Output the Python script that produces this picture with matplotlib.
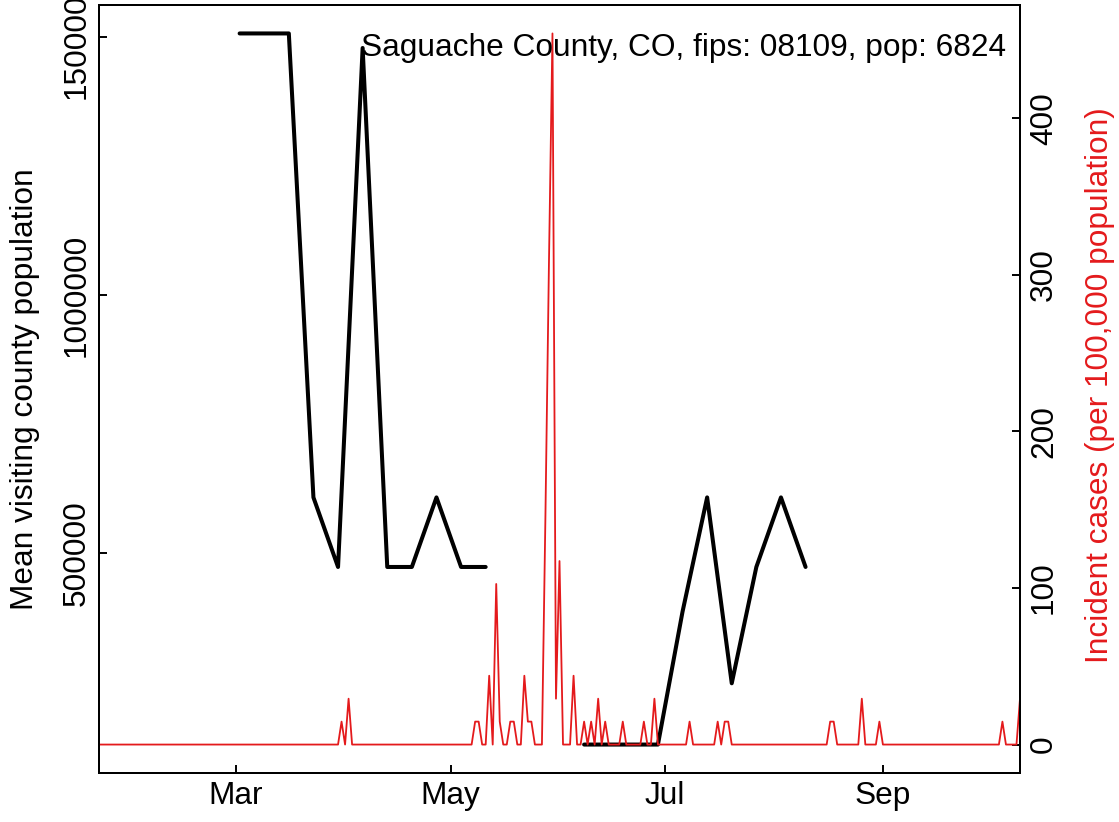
import numpy as np
import matplotlib
matplotlib.use("Agg")
import matplotlib.pyplot as plt
import matplotlib.dates as mdates

plt.rcParams['font.family'] = ['Liberation Sans', 'DejaVu Sans']

county = "Saguache County, CO"
fips = "08109"
population = 6824

# daily incident cases, 2020-01-22 .. 2020-10-10; zero except on these days
case_start = np.datetime64("2020-01-22")
case_end = np.datetime64("2020-10-10")
spike_dates = ["2020-03-31", "2020-04-02", "2020-05-08", "2020-05-09", "2020-05-12",
               "2020-05-14", "2020-05-15", "2020-05-18", "2020-05-19", "2020-05-22",
               "2020-05-23", "2020-05-24", "2020-05-28", "2020-05-29", "2020-05-30",
               "2020-05-31", "2020-06-01", "2020-06-05", "2020-06-08", "2020-06-10",
               "2020-06-12", "2020-06-14", "2020-06-19", "2020-06-25", "2020-06-28",
               "2020-07-08", "2020-07-16", "2020-07-18", "2020-07-19", "2020-08-17",
               "2020-08-18", "2020-08-26", "2020-08-31", "2020-10-05", "2020-10-10"]
spike_cases = [1, 2, 1, 1, 3,
               7, 1, 1, 1, 3,
               1, 1, 10, 21, 31,
               2, 8, 3, 1, 1,
               2, 1, 1, 1, 2,
               1, 1, 1, 1, 1,
               1, 2, 1, 1, 2]

# weekly mean visiting county population (Mondays), nan = no data
visit_dates = ["2020-03-02", "2020-03-09", "2020-03-16", "2020-03-23", "2020-03-30",
               "2020-04-06", "2020-04-13", "2020-04-20", "2020-04-27", "2020-05-04",
               "2020-05-11", "2020-05-18", "2020-05-25", "2020-06-01", "2020-06-08",
               "2020-06-15", "2020-06-22", "2020-06-29", "2020-07-06", "2020-07-13",
               "2020-07-20", "2020-07-27", "2020-08-03", "2020-08-10"]
visit_pop = [1507600, 1507600, 1507600, 607300, 472300,
             1479400, 472300, 472300, 607300, 472300,
             472300, np.nan, np.nan, np.nan, 127700,
             127700, 127700, 127700, 385500, 607300,
             246600, 472300, 607300, 472300]

red = '#E41A1C'
fs = 22.8

days = np.arange(case_start, case_end + np.timedelta64(1, 'D'))
cases = np.zeros(len(days))
for d, c in zip(spike_dates, spike_cases):
    cases[days == np.datetime64(d)] = c
incidence = cases * 100000 / population

W, H = 1119, 822
fig = plt.figure(figsize=(W / 100, H / 100), dpi=100)
ax = fig.add_axes([99 / W, 1 - 773 / H, (1020 - 99) / W, (773 - 5) / H])

ax.plot(np.array(visit_dates, dtype='datetime64[D]'), visit_pop, color='black',
        lw=2.9, solid_capstyle='round', solid_joinstyle='round')
ax.margins(x=0, y=0.04)
ax.set_yticks([500000, 1000000, 1500000])
ax.set_yticklabels(["500000", "1000000", "1500000"])

ax2 = ax.twinx()
ax2.plot(days, incidence, color=red, lw=1.3)
ax2.margins(x=0, y=0.04)
ax2.set_yticks([0, 100, 200, 300, 400])

ax.set_xlim(case_start, case_end)
ax.set_xticks([np.datetime64("2020-03-01"), np.datetime64("2020-05-01"),
               np.datetime64("2020-07-01"), np.datetime64("2020-09-01")])
ax.xaxis.set_major_formatter(mdates.DateFormatter('%b'))

for a in (ax, ax2):
    for s in a.spines.values():
        s.set_linewidth(1.4)
    a.tick_params(direction='in', length=5.5, width=1.4, labelsize=fs)
ax.tick_params(axis='x', pad=6)
ax.tick_params(axis='y', pad=5)
ax2.tick_params(axis='y', pad=6.5)
for lab in ax.get_yticklabels() + ax2.get_yticklabels():
    lab.set_rotation(90)
    lab.set_va('center')

fig.text(25 / W, 1 - 389 / H, "Mean visiting county population", rotation=90,
         ha='center', va='center', fontsize=fs)
fig.text(1100 / W, 1 - 385 / H, "Incident cases (per 100,000 population)", rotation=90,
         ha='center', va='center', fontsize=fs, color=red)
fig.text(1006 / W, 1 - 56 / H, f"{county}, fips: {fips}, pop: {population}",
         ha='right', va='baseline', fontsize=fs)

fig.savefig('out.png', dpi=100)
